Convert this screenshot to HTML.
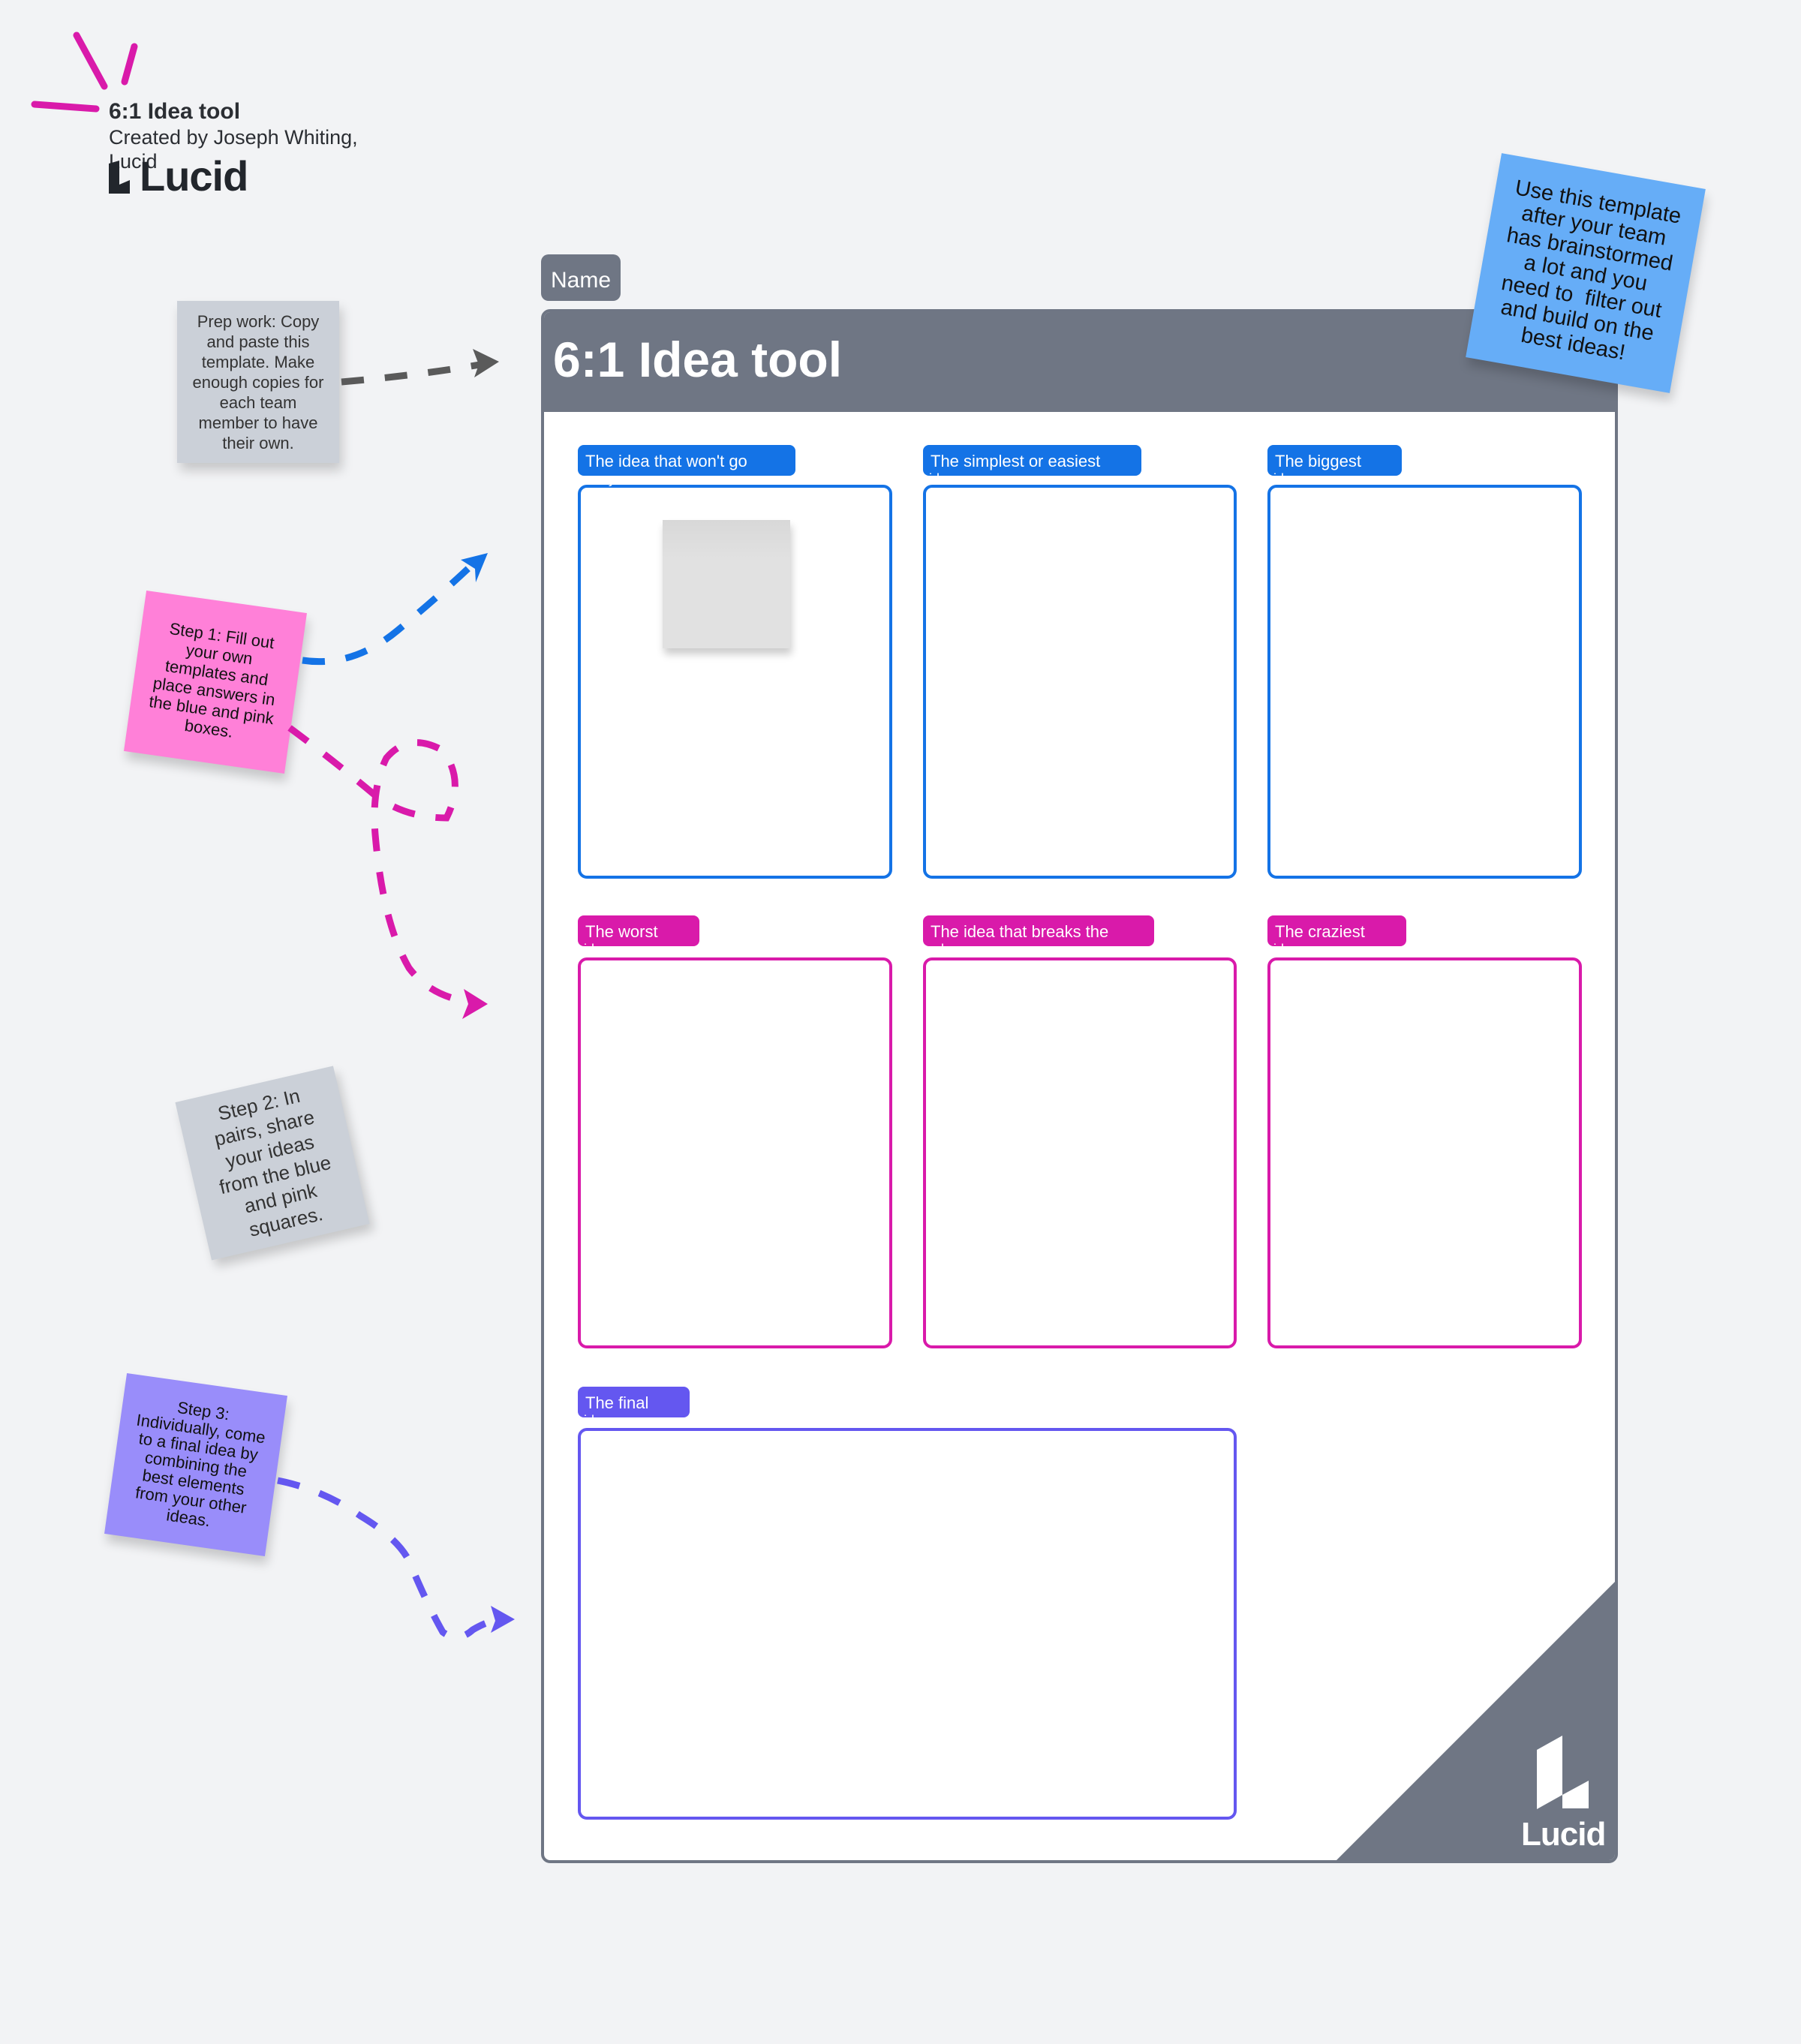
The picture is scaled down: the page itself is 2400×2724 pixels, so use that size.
<!DOCTYPE html>
<html><head><meta charset="utf-8"><style>
html,body{margin:0;padding:0;background:#f2f3f5;}
body{width:2400px;height:2724px;position:relative;overflow:hidden;font-family:"Liberation Sans",sans-serif;}
.abs{position:absolute;}
.lbl{position:absolute;height:41px;border-radius:8px;color:#fff;font-size:22px;line-height:44px;padding-left:10px;box-sizing:border-box;overflow:visible;}
.lbl span{position:absolute;left:8px;top:36px;font-size:18px;line-height:18px;color:#fff;}
.box{position:absolute;border:4px solid;border-radius:12px;background:#fff;box-sizing:border-box;}
.sticky{position:absolute;display:flex;align-items:center;justify-content:center;text-align:center;box-sizing:border-box;box-shadow:4px 10px 14px rgba(0,0,0,0.18);}
</style></head><body>
<svg class="abs" style="left:0;top:0" width="2400" height="2724">
<g stroke="#d91aaa" stroke-width="9" stroke-linecap="round" fill="none">
<path d="M102 47 L139 115"/><path d="M179 62 L166 109"/><path d="M46 139 L128 145"/>
</g>
</svg>
<div class="abs" style="left:145px;top:132px;font-size:30px;font-weight:bold;color:#2b2e33;">6:1 Idea tool</div>
<div class="abs" style="left:145px;top:167px;font-size:27px;color:#2b2e33;line-height:32px;width:360px;">Created by Joseph Whiting, Lucid</div>
<svg class="abs" style="left:145px;top:214px" width="40" height="44"><polygon points="0,4 14,0 14,44 0,44" fill="#22262c"/><polygon points="14,32 28,26 28,44 14,44" fill="#22262c"/></svg>
<div class="abs" style="left:186px;top:202px;font-size:56px;font-weight:bold;color:#22262c;letter-spacing:-1px;">Lucid</div>

<div class="abs" style="left:721px;top:339px;width:106px;height:62px;background:#6f7684;border-radius:10px;color:#fff;font-size:30px;line-height:70px;padding-left:13px;box-sizing:border-box;">Name</div>
<div class="abs" style="left:721px;top:412px;width:1435px;height:2071px;background:#fff;border:4px solid #6f7684;border-radius:12px;box-sizing:border-box;overflow:hidden;">
 <div class="abs" style="left:0;top:0;width:100%;height:133px;background:#6f7684;"></div>
 <div class="abs" style="left:12px;top:25px;font-size:66px;font-weight:bold;color:#fff;">6:1 Idea tool</div>
 <svg class="abs" style="left:0;top:0" width="1435" height="2071"><polygon points="1048,2071 1435,1684 1435,2071" fill="#6f7684"/></svg>
</div>
<svg class="abs" style="left:0;top:0" width="2400" height="2724">
<polygon points="2048,2332 2082,2313 2082,2392 2048,2411" fill="#fff"/>
<polygon points="2082,2392 2117,2373 2117,2410 2082,2410" fill="#fff"/>
</svg>
<div class="abs" style="left:2027px;top:2420px;font-size:44px;font-weight:bold;color:#fff;letter-spacing:-1px;">Lucid</div>

<div class="box" style="left:770px;top:646px;width:419px;height:525px;border-color:#1473e6;"></div>
<div class="box" style="left:1230px;top:646px;width:418px;height:525px;border-color:#1473e6;"></div>
<div class="box" style="left:1689px;top:646px;width:419px;height:525px;border-color:#1473e6;"></div>
<div class="box" style="left:770px;top:1276px;width:419px;height:521px;border-color:#d91aaa;"></div>
<div class="box" style="left:1230px;top:1276px;width:418px;height:521px;border-color:#d91aaa;"></div>
<div class="box" style="left:1689px;top:1276px;width:419px;height:521px;border-color:#d91aaa;"></div>
<div class="box" style="left:770px;top:1903px;width:878px;height:522px;border-color:#6457f0;"></div>
<div class="lbl" style="left:770px;top:593px;width:290px;background:#1473e6;">The idea that won't go<span>away</span></div>
<div class="lbl" style="left:1230px;top:593px;width:291px;background:#1473e6;">The simplest or easiest<span>idea</span></div>
<div class="lbl" style="left:1689px;top:593px;width:179px;background:#1473e6;">The biggest<span>idea</span></div>
<div class="lbl" style="left:770px;top:1220px;width:162px;background:#d91aaa;">The worst<span>idea</span></div>
<div class="lbl" style="left:1230px;top:1220px;width:308px;background:#d91aaa;">The idea that breaks the<span>rules</span></div>
<div class="lbl" style="left:1689px;top:1220px;width:185px;background:#d91aaa;">The craziest<span>idea</span></div>
<div class="lbl" style="left:770px;top:1848px;width:149px;background:#6457f0;">The final<span>idea</span></div>
<div class="abs" style="left:883px;top:693px;width:170px;height:171px;background:linear-gradient(#d8d8d8,#e1e1e1 30%);box-shadow:2px 8px 10px rgba(0,0,0,0.2);"></div>

<div class="sticky" style="left:236px;top:401px;width:216px;height:216px;background:#cbd0d8;font-size:22px;color:#333;line-height:27px;padding:6px 16px;">Prep work: Copy and paste this template. Make enough copies for each team member to have their own.</div>
<div class="sticky" style="left:179px;top:801px;width:216px;height:216px;background:#ff80d8;font-size:22px;color:#111;line-height:25px;padding:10px 24px;transform:rotate(8deg);">Step 1: Fill out your own templates and place answers in the blue and pink boxes.</div>
<div class="sticky" style="left:255px;top:1442px;width:216px;height:216px;background:#cbd0d8;font-size:26px;color:#333;line-height:32px;padding:22px;transform:rotate(-13deg);">Step 2: In pairs, share your ideas from the blue and pink squares.</div>
<div class="sticky" style="left:153px;top:1844px;width:216px;height:216px;background:#998dfa;font-size:22px;color:#111;line-height:24px;padding:12px 18px;transform:rotate(8deg);">Step 3: Individually, come to a final idea by combining the best elements from your other ideas.</div>
<div class="sticky" style="left:1975px;top:226px;width:276px;height:276px;background:#66adf7;font-size:29px;color:#111;line-height:32px;padding:14px 22px;transform:rotate(10deg);">Use this template after your team has brainstormed a lot and you need to &nbsp;filter out and build on the best ideas!</div>

<svg class="abs" style="left:0;top:0" width="2400" height="2724" fill="none" stroke-width="9">
<path d="M455 509 Q560 500 645 485" stroke="#5a5a5a" stroke-dasharray="30 28"/>
<polygon points="665,482 630,465 638,486 632,503" fill="#5a5a5a"/>
<path d="M403 880 Q470 890 530 840 Q590 790 632 750" stroke="#1473e6" stroke-dasharray="30 28"/>
<polygon points="650,737 614,746 633,758 634,776" fill="#1473e6"/>
<path d="M386 970 Q440 1010 500 1060 Q540 1090 595 1090 Q620 1040 590 1000 Q545 975 515 1010 Q495 1050 500 1112 Q510 1230 545 1290 Q575 1330 632 1336" stroke="#d91aaa" stroke-dasharray="30 28"/>
<polygon points="650,1338 618,1318 624,1338 616,1358" fill="#d91aaa"/>
<path d="M370 1973 Q430 1985 480 2020 Q530 2050 545 2080 Q570 2140 590 2175 Q610 2190 630 2172 Q650 2160 668 2158" stroke="#6457f0" stroke-dasharray="30 28"/>
<polygon points="686,2158 654,2140 660,2160 654,2176" fill="#6457f0"/>
</svg>
</body></html>
